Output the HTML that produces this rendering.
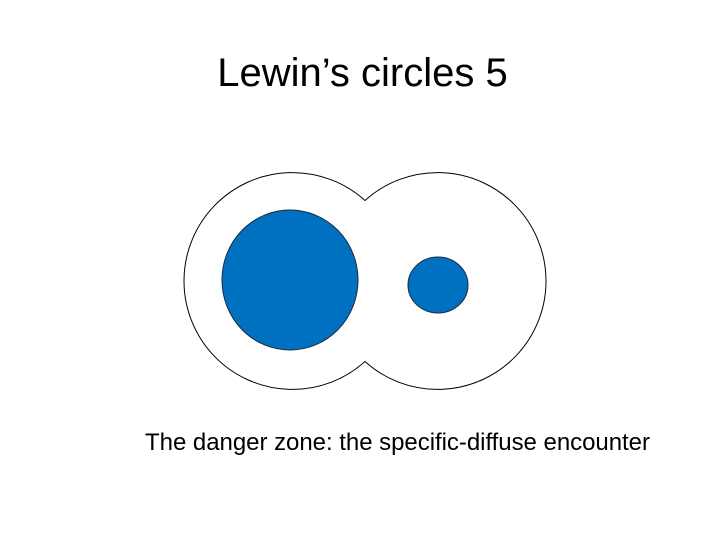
<!DOCTYPE html>
<html><head><meta charset="utf-8"><style>
html,body{margin:0;padding:0;background:#fff;}
body{width:720px;height:540px;overflow:hidden;}
</style></head><body>
<svg width="720" height="540" viewBox="0 0 720 540" xmlns="http://www.w3.org/2000/svg">
<rect width="720" height="540" fill="#fff"/>
<text x="362.5" y="86" text-anchor="middle" font-family="Liberation Sans, sans-serif" font-size="40" fill="#000">Lewin’s circles 5</text>
<path d="M365,200.5 A108.4,108.4 0 1 0 365,361.5 A108.4,108.4 0 1 0 365,200.5 Z" fill="#fff" stroke="#000" stroke-width="1"/>
<ellipse cx="290" cy="280" rx="68" ry="70" fill="#0070C0" stroke="#1a2a40" stroke-width="1"/>
<ellipse cx="438" cy="285" rx="30" ry="28" fill="#0070C0" stroke="#1a2a40" stroke-width="1"/>
<text x="145" y="450" font-family="Liberation Sans, sans-serif" font-size="24" textLength="505" fill="#000">The danger zone: the specific-diffuse encounter</text>
</svg>
</body></html>
